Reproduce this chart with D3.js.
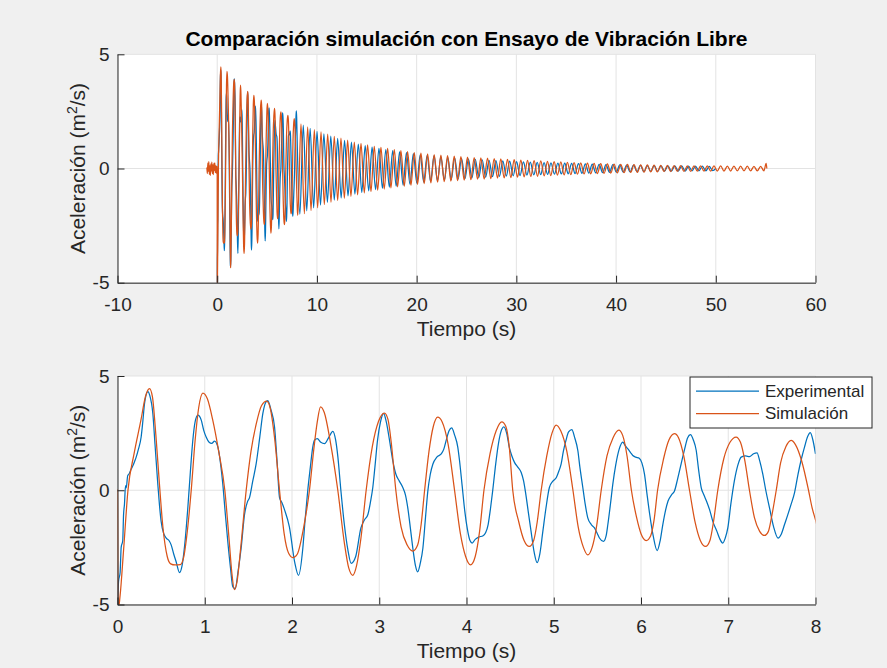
<!DOCTYPE html>
<html><head><meta charset="utf-8">
<script src="https://cdn.jsdelivr.net/npm/d3@7"></script>
<style>body{margin:0;background:#f0f0f0;} svg{display:block;font-family:"Liberation Sans",Arial,Helvetica,sans-serif;}</style>
</head><body><div id="chart"></div>
<script>
// ---- DATA ----
const titleText = "Comparación simulación con Ensayo de Vibración Libre";
const xLabel = "Tiempo (s)";
const seriesNames = ["Experimental", "Simulación"];
const topXTicks = [-10, 0, 10, 20, 30, 40, 50, 60];
const bottomXTicks = [0, 1, 2, 3, 4, 5, 6, 7, 8];
const yTicks = [-5, 0, 5];

// Experimental, detailed (0-8 s): [t, a]
const expDetail = [[0,-5.3],[0.012,-4.0],[0.03,-3.6],[0.042,-2.5],[0.06,-2.2],[0.069,-1.1],[0.08,-0.6],[0.092,0.2],[0.1,0.1],[0.117,0.64],[0.13,0.7],[0.157,0.93],[0.18,1.1],[0.2,1.3],[0.214,1.45],[0.24,1.8],[0.271,2.33],[0.29,3.0],[0.31,3.8],[0.348,4.32],[0.37,4.15],[0.405,3.36],[0.43,2.0],[0.462,0.27],[0.48,-0.6],[0.5,-1.36],[0.53,-1.9],[0.558,-2.09],[0.59,-2.2],[0.615,-2.39],[0.645,-2.8],[0.672,-3.13],[0.711,-3.6],[0.74,-3.3],[0.77,-2.4],[0.806,-0.77],[0.835,0.8],[0.863,2.18],[0.89,3.0],[0.921,3.29],[0.96,3.07],[0.99,2.6],[1.016,2.33],[1.05,2.1],[1.08,2.05],[1.112,2.15],[1.15,1.9],[1.18,1.2],[1.207,0.27],[1.235,-1.0],[1.264,-2.24],[1.295,-3.4],[1.322,-4.23],[1.35,-4.3],[1.38,-3.6],[1.417,-2.54],[1.456,-1.06],[1.49,-0.5],[1.513,-0.32],[1.55,0.4],[1.589,1.15],[1.63,2.3],[1.666,3.36],[1.7,3.85],[1.723,3.92],[1.76,3.5],[1.8,2.77],[1.83,1.2],[1.857,-0.32],[1.885,-0.55],[1.914,-0.85],[1.97,-1.6],[2.03,-3.13],[2.075,-3.72],[2.124,-2.54],[2.15,-1.3],[2.18,-0.03],[2.21,1.0],[2.238,1.89],[2.26,2.2],[2.29,2.26],[2.33,2.1],[2.373,2.04],[2.42,2.3],[2.468,2.58],[2.5,2.2],[2.526,1.45],[2.56,0.0],[2.6,-1.5],[2.64,-2.6],[2.678,-3.2],[2.73,-2.9],[2.79,-1.65],[2.83,-1.3],[2.87,-1.06],[2.9,-0.5],[2.926,0.12],[2.95,1.0],[2.98,2.18],[3.015,3.0],[3.05,3.36],[3.08,3.0],[3.118,2.18],[3.155,1.3],[3.19,0.71],[3.23,0.4],[3.27,0.12],[3.3,-0.2],[3.327,-0.77],[3.355,-1.6],[3.385,-2.54],[3.415,-3.3],[3.44,-3.57],[3.47,-3.2],[3.5,-2.54],[3.53,-1.2],[3.557,-0.03],[3.585,0.7],[3.615,1.15],[3.66,1.45],[3.71,1.59],[3.74,1.8],[3.767,2.18],[3.8,2.6],[3.83,2.73],[3.865,2.4],[3.9,1.89],[3.92,1.3],[3.95,0.2],[3.98,-0.9],[4.01,-1.7],[4.04,-2.2],[4.065,-2.31],[4.1,-2.15],[4.14,-2.05],[4.19,-1.99],[4.22,-1.85],[4.248,-1.5],[4.275,-0.8],[4.3,-0.03],[4.33,1.0],[4.36,1.89],[4.39,2.5],[4.428,2.77],[4.46,2.5],[4.49,1.89],[4.52,1.5],[4.55,1.22],[4.59,1.0],[4.627,0.78],[4.655,0.4],[4.68,-0.18],[4.71,-1.0],[4.74,-1.8],[4.775,-2.7],[4.81,-3.17],[4.84,-2.8],[4.875,-1.8],[4.91,-0.8],[4.95,0.12],[4.99,0.4],[5.03,0.56],[5.06,0.85],[5.085,1.15],[5.11,1.7],[5.14,2.18],[5.17,2.55],[5.207,2.65],[5.24,2.3],[5.276,1.74],[5.3,1.0],[5.333,0.12],[5.36,-0.6],[5.39,-1.21],[5.43,-1.5],[5.467,-1.65],[5.5,-1.9],[5.524,-2.09],[5.57,-2.24],[5.6,-2.0],[5.62,-1.5],[5.65,-0.6],[5.677,0.27],[5.71,1.1],[5.75,1.8],[5.79,2.11],[5.82,1.95],[5.85,1.81],[5.88,1.65],[5.906,1.52],[5.94,1.45],[5.98,1.4],[6.01,1.2],[6.04,0.71],[6.07,-0.2],[6.1,-1.06],[6.14,-2.0],[6.185,-2.64],[6.22,-2.2],[6.25,-1.5],[6.28,-0.9],[6.31,-0.47],[6.35,-0.2],[6.384,-0.03],[6.42,0.5],[6.46,1.15],[6.5,1.8],[6.535,2.3],[6.567,2.43],[6.6,2.2],[6.633,1.74],[6.66,0.9],[6.69,0.12],[6.72,-0.2],[6.75,-0.47],[6.79,-0.9],[6.823,-1.36],[6.87,-1.8],[6.9,-2.1],[6.937,-2.31],[6.965,-2.1],[6.995,-1.65],[7.03,-0.6],[7.07,0.41],[7.11,1.1],[7.148,1.45],[7.2,1.5],[7.243,1.47],[7.29,1.6],[7.33,1.64],[7.36,1.3],[7.396,0.71],[7.43,0.0],[7.473,-0.77],[7.52,-1.6],[7.57,-2.09],[7.61,-1.9],[7.645,-1.5],[7.68,-1.1],[7.72,-0.62],[7.76,-0.1],[7.8,0.71],[7.84,1.4],[7.874,1.89],[7.91,2.35],[7.94,2.52],[7.97,2.2],[8.0,1.59]];

// Experimental, peaks and troughs after 8 s: [t, a]
const expTail = [[8.29,-2.0],[8.63,1.9],[8.98,-1.85],[9.32,1.76],[9.67,-1.72],[10.01,1.62],[10.36,-1.6],[10.70,1.52],[11.05,-1.48],[11.39,1.42],[11.74,-1.38],[12.08,1.32],[12.43,-1.29],[12.77,1.23],[13.12,-1.2],[13.46,1.15],[13.81,-1.12],[14.15,1.07],[14.50,-1.05],[14.84,1.0],[15.19,-0.98],[15.53,0.94],[15.88,-0.92],[16.22,0.88],[16.57,-0.86],[16.91,0.83],[17.26,-0.81],[17.60,0.78],[17.95,-0.77],[18.29,0.73],[18.64,-0.72],[18.98,0.69],[19.33,-0.68],[19.67,0.65],[20.02,-0.64],[20.36,0.61],[20.71,-0.6],[21.05,0.58],[21.40,-0.57],[21.74,0.55],[22.09,-0.54],[22.43,0.52],[22.78,-0.51],[23.12,0.49],[23.47,-0.49],[23.81,0.47],[24.16,-0.46],[24.50,0.44],[24.85,-0.44],[25.19,0.42],[25.54,-0.42],[25.88,0.4],[26.23,-0.4],[26.57,0.38],[26.92,-0.38],[27.26,0.36],[27.61,-0.36],[27.95,0.35],[28.30,-0.35],[28.64,0.33],[28.99,-0.33],[29.33,0.32],[29.68,-0.32],[30.02,0.3],[30.37,-0.31],[30.71,0.29],[31.06,-0.29],[31.40,0.28],[31.75,-0.28],[32.09,0.27],[32.44,-0.27],[32.78,0.26],[33.13,-0.26],[33.47,0.25],[33.82,-0.25],[34.16,0.24],[34.51,-0.24],[34.85,0.23],[35.20,-0.23],[35.54,0.22],[35.89,-0.22],[36.23,0.21],[36.58,-0.21],[36.92,0.2],[37.27,-0.2],[37.61,0.19],[37.96,-0.19],[38.30,0.18],[38.65,-0.18],[38.99,0.17],[39.34,-0.17],[39.68,0.17],[40.03,-0.16],[40.37,0.16],[40.72,-0.16],[41.06,0.15],[41.41,-0.15],[41.75,0.15],[42.10,-0.14],[42.44,0.14],[42.79,-0.14],[43.13,0.13],[43.48,-0.13],[43.82,0.13],[44.17,-0.13],[44.51,0.12],[44.86,-0.12],[45.20,0.12],[45.55,-0.12],[45.89,0.11],[46.24,-0.11],[46.58,0.11],[46.93,-0.11],[47.27,0.1],[47.62,-0.1],[47.96,0.1],[48.31,-0.1],[48.65,0.1],[49.00,-0.1],[49.34,0.09],[49.69,-0.09],[50.0,0.0]];

// Simulation, detailed (-1 to 8 s): [t, a]
const simDetail = [[-1.04,0.05],[-0.99,-0.22],[-0.94,0.24],[-0.89,-0.12],[-0.84,0.3],[-0.79,-0.26],[-0.74,0.12],[-0.69,-0.3],[-0.64,0.2],[-0.59,-0.1],[-0.54,0.28],[-0.49,-0.22],[-0.44,0.16],[-0.39,-0.27],[-0.34,0.22],[-0.29,-0.08],[-0.24,0.25],[-0.19,-0.18],[-0.14,0.12],[-0.09,-0.2],[-0.04,0.1],[0,0],[0.006,-5.3],[0.03,-4.6],[0.07,-2.6],[0.12,0.0],[0.19,1.6],[0.27,3.1],[0.32,4.1],[0.367,4.45],[0.40,4.1],[0.44,2.4],[0.48,0.3],[0.52,-1.6],[0.57,-2.9],[0.61,-3.22],[0.66,-3.27],[0.72,-3.25],[0.76,-2.9],[0.80,-1.8],[0.845,0.0],[0.89,2.2],[0.93,3.6],[0.978,4.25],[1.03,4.0],[1.09,3.1],[1.16,1.7],[1.23,0.0],[1.28,-2.2],[1.31,-3.6],[1.34,-4.35],[1.37,-4.0],[1.41,-2.6],[1.475,0.0],[1.53,1.7],[1.59,2.9],[1.65,3.7],[1.71,3.9],[1.75,3.6],[1.8,2.3],[1.857,0.0],[1.91,-1.9],[1.96,-2.75],[2.01,-2.95],[2.06,-2.8],[2.13,-1.7],[2.2,0.0],[2.25,1.8],[2.29,3.0],[2.327,3.65],[2.37,3.4],[2.44,2.1],[2.525,0.0],[2.6,-2.3],[2.65,-3.4],[2.697,-3.72],[2.74,-3.3],[2.79,-2.1],[2.85,0.0],[2.92,1.9],[2.99,3.0],[3.06,3.38],[3.1,3.1],[3.14,2.0],[3.19,0.0],[3.25,-1.6],[3.32,-2.4],[3.385,-2.66],[3.44,-2.4],[3.48,-1.5],[3.52,0.0],[3.57,1.7],[3.62,2.8],[3.67,3.2],[3.72,3.0],[3.79,2.0],[3.863,0.0],[3.93,-1.9],[3.99,-2.9],[4.046,-3.27],[4.1,-2.9],[4.15,-1.8],[4.2,0.0],[4.27,1.6],[4.34,2.6],[4.405,2.99],[4.45,2.8],[4.49,1.9],[4.53,0.0],[4.6,-1.4],[4.66,-2.2],[4.72,-2.46],[4.77,-2.2],[4.81,-1.4],[4.856,0.0],[4.92,1.5],[4.98,2.5],[5.027,2.85],[5.08,2.6],[5.15,1.7],[5.22,0.0],[5.28,-1.6],[5.34,-2.5],[5.39,-2.83],[5.44,-2.5],[5.49,-1.6],[5.544,0.0],[5.61,1.5],[5.68,2.3],[5.746,2.63],[5.79,2.4],[5.84,1.5],[5.89,0.0],[5.95,-1.2],[6.0,-1.9],[6.06,-2.2],[6.11,-2.0],[6.15,-1.3],[6.19,0.0],[6.26,1.4],[6.32,2.2],[6.384,2.48],[6.43,2.3],[6.49,1.5],[6.556,0.0],[6.62,-1.4],[6.68,-2.2],[6.74,-2.46],[6.79,-2.2],[6.83,-1.4],[6.88,0.0],[6.95,1.4],[7.02,2.1],[7.09,2.33],[7.14,2.1],[7.19,1.3],[7.243,0.0],[7.3,-1.2],[7.36,-1.8],[7.415,-1.98],[7.46,-1.8],[7.5,-1.1],[7.55,0.0],[7.6,1.2],[7.66,1.9],[7.72,2.18],[7.77,2.0],[7.84,1.3],[7.92,0.0],[7.96,-0.75],[8.0,-1.3],[8.04,-1.85],[8.08,-2.05]];

// Simulation, peaks and troughs after 8 s: [t, a]
const simTail = [[8.40,1.95],[8.74,-1.98],[9.07,1.82],[9.41,-1.84],[9.74,1.70],[10.07,-1.72],[10.41,1.60],[10.74,-1.58],[11.08,1.50],[11.41,-1.48],[11.74,1.41],[12.08,-1.40],[12.41,1.33],[12.75,-1.30],[13.08,1.24],[13.41,-1.22],[13.75,1.16],[14.08,-1.15],[14.42,1.10],[14.75,-1.07],[15.08,1.03],[15.42,-1.01],[15.75,0.97],[16.09,-0.95],[16.42,0.92],[16.75,-0.90],[17.09,0.88],[17.42,-0.85],[17.76,0.83],[18.09,-0.80],[18.42,0.78],[18.76,-0.77],[19.09,0.74],[19.43,-0.73],[19.76,0.70],[20.09,-0.69],[20.43,0.67],[20.76,-0.66],[21.10,0.64],[21.43,-0.63],[21.76,0.61],[22.10,-0.60],[22.43,0.59],[22.77,-0.58],[23.10,0.56],[23.43,-0.55],[23.77,0.54],[24.10,-0.53],[24.44,0.52],[24.77,-0.51],[25.10,0.50],[25.44,-0.49],[25.77,0.48],[26.11,-0.47],[26.44,0.46],[26.77,-0.46],[27.11,0.45],[27.44,-0.44],[27.78,0.43],[28.11,-0.42],[28.44,0.42],[28.78,-0.41],[29.11,0.40],[29.45,-0.40],[29.78,0.39],[30.11,-0.38],[30.45,0.37],[30.78,-0.37],[31.12,0.36],[31.45,-0.35],[31.78,0.34],[32.12,-0.34],[32.45,0.33],[32.79,-0.32],[33.12,0.31],[33.45,-0.31],[33.79,0.30],[34.12,-0.29],[34.46,0.29],[34.79,-0.28],[35.12,0.27],[35.46,-0.27],[35.79,0.26],[36.13,-0.25],[36.46,0.25],[36.79,-0.24],[37.13,0.23],[37.46,-0.23],[37.80,0.22],[38.13,-0.22],[38.46,0.21],[38.80,-0.21],[39.13,0.20],[39.47,-0.20],[39.80,0.19],[40.13,-0.19],[40.47,0.18],[40.80,-0.18],[41.14,0.18],[41.47,-0.17],[41.80,0.17],[42.14,-0.17],[42.47,0.16],[42.81,-0.16],[43.14,0.16],[43.47,-0.15],[43.81,0.15],[44.14,-0.15],[44.48,0.14],[44.81,-0.14],[45.14,0.14],[45.48,-0.14],[45.81,0.13],[46.15,-0.13],[46.48,0.13],[46.81,-0.13],[47.15,0.12],[47.48,-0.13],[47.82,0.12],[48.15,-0.12],[48.48,0.12],[48.82,-0.12],[49.15,0.11],[49.49,-0.12],[49.82,0.11],[50.15,-0.11],[50.49,0.11],[50.82,-0.11],[51.16,0.10],[51.49,-0.11],[51.82,0.10],[52.16,-0.10],[52.49,0.10],[52.83,-0.10],[53.16,0.10],[53.49,-0.10],[53.83,0.09],[54.16,-0.10],[54.50,0.09],[54.83,-0.10],[55.05,0.22],[55.12,0.0]];

// ---- DRAWING ----
const W = 887, H = 668;
const colors = ["#0072BD", "#D95319"];
const axisColor = "#262626";
const gridColor = "#e3e3e3";
const X0 = 117.5, X1 = 815.5;

const svg = d3.select("#chart").append("svg").attr("width", W).attr("height", H);
svg.append("rect").attr("width", W).attr("height", H).attr("fill", "#f0f0f0");

const panels = [
  { id: "p1", y0: 54.3, y1: 282.7, xdom: [-10, 60], xticks: topXTicks,
    exp: expDetail.concat(expTail), sim: simDetail.concat(simTail), legend: false },
  { id: "p2", y0: 376, y1: 604.5, xdom: [0, 8], xticks: bottomXTicks,
    exp: expDetail, sim: simDetail, legend: true }
];

panels.forEach(p => {
  const x = d3.scaleLinear().domain(p.xdom).range([X0, X1]);
  const y = d3.scaleLinear().domain([-5, 5]).range([p.y1, p.y0]);
  const g = svg.append("g");

  g.append("rect").attr("x", X0).attr("y", p.y0).attr("width", X1 - X0).attr("height", p.y1 - p.y0).attr("fill", "#fff");

  // grid
  g.append("g").selectAll("line").data(p.xticks).join("line")
    .attr("x1", d => x(d)).attr("x2", d => x(d)).attr("y1", p.y0).attr("y2", p.y1)
    .attr("stroke", gridColor).attr("stroke-width", 1);
  g.append("g").selectAll("line").data(yTicks).join("line")
    .attr("x1", X0).attr("x2", X1).attr("y1", d => y(d)).attr("y2", d => y(d))
    .attr("stroke", gridColor).attr("stroke-width", 1);

  // clip
  svg.append("clipPath").attr("id", "clip-" + p.id).append("rect")
    .attr("x", X0).attr("y", p.y0).attr("width", X1 - X0).attr("height", p.y1 - p.y0);

  const line = d3.line().x(d => x(d[0])).y(d => y(d[1])).curve(d3.curveMonotoneX);
  const lg = g.append("g").attr("clip-path", `url(#clip-${p.id})`);
  lg.append("path").datum(p.exp).attr("d", line).attr("fill", "none")
    .attr("stroke", colors[0]).attr("stroke-width", 1.25).attr("stroke-linejoin", "round");
  lg.append("path").datum(p.sim).attr("d", line).attr("fill", "none")
    .attr("stroke", colors[1]).attr("stroke-width", 1.25).attr("stroke-linejoin", "round");

  // axes
  const xAxis = d3.axisBottom(x).tickValues(p.xticks).tickSizeInner(-7).tickSizeOuter(0).tickPadding(15)
    .tickFormat(d3.format("d"));
  const xa = g.append("g").attr("transform", `translate(0,${p.y1})`).call(xAxis);
  const yAxis = d3.axisLeft(y).tickValues(yTicks).tickSizeInner(-7).tickSizeOuter(0).tickPadding(8)
    .tickFormat(d3.format("d"));
  const ya = g.append("g").attr("transform", `translate(${X0},0)`).call(yAxis);
  [xa, ya].forEach(a => {
    a.select(".domain").attr("stroke", axisColor).attr("stroke-width", 1);
    a.selectAll(".tick line").attr("stroke", axisColor).attr("stroke-width", 1);
    a.selectAll(".tick text").attr("fill", axisColor).attr("font-size", 19)
      .attr("font-family", '"Liberation Sans",Arial,sans-serif');
  });
  ya.selectAll(".tick text").text(d => d < 0 ? "-" + Math.abs(d) : d);
  xa.selectAll(".tick text").text(d => d < 0 ? "-" + Math.abs(d) : d);

  // labels
  g.append("text").attr("x", (X0 + X1) / 2).attr("y", p.y1 + 53).attr("text-anchor", "middle")
    .attr("font-size", 21).attr("fill", axisColor).text(xLabel);
  const yl = g.append("text").attr("transform", `translate(85,${(p.y0 + p.y1) / 2}) rotate(-90)`)
    .attr("text-anchor", "middle").attr("font-size", 21).attr("fill", axisColor);
  yl.append("tspan").text("Aceleración (m");
  yl.append("tspan").attr("dy", -8).attr("font-size", 14).text("2");
  yl.append("tspan").attr("dy", 8).text("/s)");

  if (p.legend) {
    const lx = 690, ly = 377, lw = 182, lh = 51;
    const leg = g.append("g");
    leg.append("rect").attr("x", lx).attr("y", ly).attr("width", lw).attr("height", lh)
      .attr("fill", "#fff").attr("stroke", axisColor).attr("stroke-width", 1);
    seriesNames.forEach((name, i) => {
      const yy = ly + 14 + i * 22.5;
      leg.append("line").attr("x1", lx + 6).attr("x2", lx + 69).attr("y1", yy).attr("y2", yy)
        .attr("stroke", colors[i]).attr("stroke-width", 1.25);
      leg.append("text").attr("x", lx + 75).attr("y", yy).attr("dy", "0.35em")
        .attr("font-size", 17).attr("fill", axisColor).text(name);
    });
  }
});

// title
svg.append("text").attr("x", (X0 + X1) / 2).attr("y", 46).attr("text-anchor", "middle")
  .attr("font-size", 21).attr("font-weight", "bold").attr("fill", "#000").text(titleText);
</script></body></html>
